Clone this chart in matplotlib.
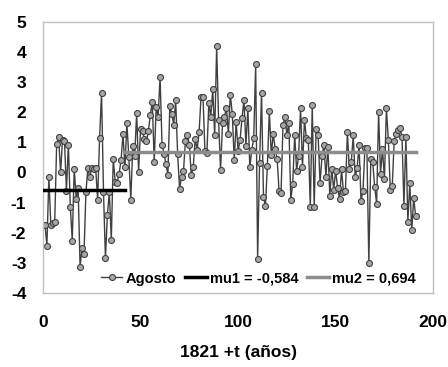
import matplotlib
matplotlib.use("Agg")
import matplotlib.pyplot as plt

plt.rcParams['font.family'] = ['Liberation Sans', 'DejaVu Sans']
plt.rcParams['font.weight'] = 'bold'
plt.rcParams['axes.unicode_minus'] = False

# anomalías de agosto, t = 1..N
agosto = [
    -1.74, -2.43, -0.15, -1.74, -1.68, -1.65, 0.95, 1.18, 0.00, 1.09,
    1.06, -0.60, 0.93, -1.15, -2.26, 0.13, -0.87, -0.52, -3.13, -2.50,
    -2.72, -0.65, 0.15, -0.15, 0.15, 0.10, 0.15, -0.91, 1.15, 2.65,
    -0.65, -2.85, -1.41, -0.65, -2.24, 0.45, -0.30, -0.35, -0.04, 0.40,
    1.29, 0.18, 1.63, 0.50, -0.91, 0.87, 0.54, 1.98, 0.02, 1.45,
    1.37, 1.12, 1.03, 1.37, 1.90, 2.35, 0.35, 2.18, 1.85, 3.18,
    0.93, 0.62, 0.29, -0.07, 2.20, 1.96, 1.59, 2.40, 0.62, -0.54,
    -0.15, 0.04, 1.06, 1.23, 0.93, -0.10, 0.18, 1.12, 0.76, 1.34,
    2.52, 2.52, 0.70, 0.65, 2.32, 1.85, 2.78, 1.23, 4.19, 1.74,
    0.07, 1.63, 1.85, 2.15, 1.29, 2.59, 1.96, 0.40, 1.68, 0.73,
    1.07, 1.82, 2.40, 0.89, 2.13, 0.18, 0.74, 1.13, 3.59, -2.87,
    0.32, 2.65, -0.80, -1.13, 0.23, 2.04, 0.59, 1.29, 0.78, 0.46,
    -0.63, -0.68, 1.57, 1.85, 1.26, 1.65, -0.91, -0.37, 1.26, 0.06,
    0.54, 2.15, 0.18, 1.74, 1.13, 1.07, -1.16, 2.24, -1.16, 1.46,
    1.24, -0.35, 0.54, 0.90, -0.15, 0.85, -0.77, 0.13, -0.57, 0.06,
    -0.52, -0.88, 0.10, -0.65, -0.63, 1.34, 0.12, 0.34, 1.23, -0.15,
    0.15, 0.90, -0.96, -0.60, 0.82, 0.80, -3.00, 0.45, 0.34, -0.48,
    -1.04, 2.02, -0.04, 0.78, -0.22, 2.13, 1.07, -0.57, -0.44, 1.04,
    1.29, 1.40, 1.48, 1.17, -1.10, 1.17, -1.63, -0.35, -1.91, -0.85,
    -1.46,
]
t = list(range(1, len(agosto) + 1))

mu1 = -0.584
mu2 = 0.694
mu1_t = [0, 42]
mu2_t = [42, 191]

fig = plt.figure(figsize=(4.48, 3.67), dpi=100)
ax = fig.add_axes([0.096, 0.202, 0.871, 0.738])

ax.plot(t, agosto, color='#404040', lw=1.0, marker='o', ms=4.3,
        mfc='#a6a6a6', mec='#404040', mew=0.8, label='Agosto', zorder=2)
ax.plot(mu1_t, [mu1, mu1], color='black', lw=2.5,
        label='mu1 = -0,584', zorder=3)
ax.plot(mu2_t, [mu2, mu2], color='#8c8c8c', lw=2.5,
        label='mu2 = 0,694', zorder=3)

ax.set_xlim(0, 200)
ax.set_ylim(-4, 5)
ax.set_xticks([0, 50, 100, 150, 200])
ax.set_yticks(range(-4, 6))
ax.tick_params(axis='x', length=0, pad=16, labelsize=12.5)
ax.tick_params(axis='y', length=0, pad=12, labelsize=12.5)
for s in ax.spines.values():
    s.set_color('#c0c0c0')
    s.set_linewidth(1.0)

ax.set_xlabel('1821 +t (años)', fontsize=12.5, fontweight='bold', labelpad=11)

ax.legend(loc='lower right', bbox_to_anchor=(0.975, 0.0), ncol=3, frameon=False,
          fontsize=10.5, handlelength=1.5, handletextpad=0.25,
          columnspacing=0.55, borderaxespad=0.1)

fig.savefig('out.png', dpi=100)
